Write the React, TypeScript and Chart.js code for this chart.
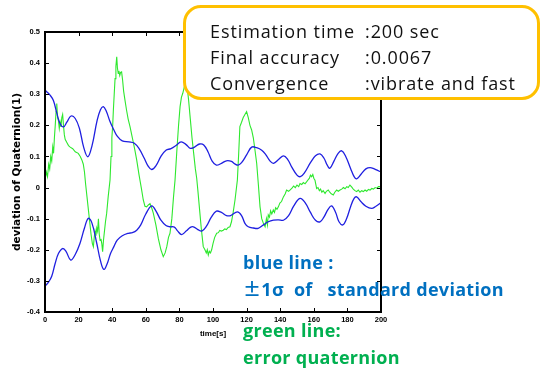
import React, { useEffect, useRef } from "react";
import { Chart, registerables } from "chart.js";

Chart.register(...registerables);

// ---- data (time [s], value) ----
const upperT = [0, 1, 3, 5, 7, 9, 11, 13, 15.5, 18, 20.5, 23, 25.5, 28, 31, 33, 34.7, 36.5, 38.5, 41, 43, 46, 50, 53, 56, 59, 61.5, 63.5, 66, 69, 72, 75, 78, 81, 84, 86.5, 89, 92, 94.5, 97, 99.5, 102, 105, 108, 111, 113, 115, 117, 120, 123, 126, 129, 131.5, 134, 136, 139, 142, 144.5, 147, 150, 152, 154.5, 158, 161, 163.7, 166, 168, 169.6, 172, 174.5, 176.6, 179, 182, 184, 185.5, 188, 191, 193.5, 196, 198, 200];
const upperV = [0.313, 0.308, 0.297, 0.28, 0.24, 0.205, 0.195, 0.21, 0.23, 0.222, 0.19, 0.13, 0.099, 0.135, 0.215, 0.25, 0.26, 0.245, 0.215, 0.185, 0.165, 0.15, 0.147, 0.143, 0.125, 0.095, 0.068, 0.058, 0.07, 0.1, 0.12, 0.125, 0.135, 0.147, 0.138, 0.126, 0.13, 0.14, 0.137, 0.115, 0.085, 0.072, 0.078, 0.086, 0.084, 0.076, 0.072, 0.08, 0.105, 0.13, 0.128, 0.12, 0.105, 0.085, 0.078, 0.09, 0.102, 0.09, 0.065, 0.04, 0.035, 0.048, 0.08, 0.102, 0.108, 0.095, 0.072, 0.062, 0.085, 0.11, 0.118, 0.1, 0.06, 0.035, 0.028, 0.042, 0.06, 0.064, 0.06, 0.055, 0.05];

const lowerT = [0, 2, 4, 6, 8, 10.5, 12.5, 15.3, 18, 20.8, 23.5, 25.8, 28, 30.8, 33, 35, 37, 39, 41, 43, 46, 49.6, 52, 54.6, 57, 60, 63.5, 66, 69, 72, 74.4, 77, 79, 81.3, 84, 86.5, 88.3, 91, 93.3, 96, 99, 102, 105, 108, 110.5, 114.5, 117, 119, 121, 124, 126.9, 130, 132.9, 136, 139, 141.9, 145, 148, 151.8, 155, 158, 161, 163.7, 166, 168.5, 170.6, 173, 175, 177.2, 179.5, 182, 184, 185.5, 188, 191, 194.4, 197, 200];
const lowerV = [-0.317, -0.305, -0.285, -0.245, -0.212, -0.196, -0.205, -0.233, -0.215, -0.18, -0.13, -0.099, -0.115, -0.179, -0.235, -0.263, -0.245, -0.212, -0.19, -0.169, -0.155, -0.147, -0.145, -0.137, -0.12, -0.085, -0.059, -0.075, -0.105, -0.122, -0.126, -0.127, -0.14, -0.151, -0.14, -0.128, -0.126, -0.135, -0.14, -0.125, -0.095, -0.076, -0.08, -0.09, -0.09, -0.078, -0.09, -0.115, -0.126, -0.13, -0.131, -0.12, -0.11, -0.105, -0.104, -0.105, -0.09, -0.06, -0.035, -0.05, -0.08, -0.105, -0.11, -0.095, -0.07, -0.059, -0.08, -0.11, -0.12, -0.1, -0.06, -0.035, -0.03, -0.045, -0.06, -0.067, -0.06, -0.049];

const errT = [0, 0.8, 1.5, 2.2, 2.8, 3.4, 4, 4.6, 5.1, 5.6, 6.1, 6.6, 7, 7.5, 8, 8.5, 9, 9.5, 10, 10.5, 11, 11.5, 12, 13, 14, 15, 16.5, 18, 19.8, 21, 22, 22.8, 23.5, 24.2, 25, 25.8, 26.6, 27.4, 28.2, 28.8, 29.3, 29.8, 30.3, 30.8, 31.3, 31.8, 32.3, 32.8, 33.3, 33.8, 34.3, 34.8, 35.4, 36, 36.7, 37.6, 38.7, 39.3, 39.8, 40.3, 40.7, 41.2, 41.7, 42.2, 42.7, 43.1, 43.6, 44, 44.5, 45, 45.6, 46.2, 46.8, 47.6, 48.5, 49.5, 50.6, 52, 53.5, 54.6, 56, 57.3, 58.5, 59.5, 60.5, 61.5, 62.5, 63.5, 64.5, 66, 67.5, 69, 70.4, 71.5, 72.5, 73.5, 74.4, 75.5, 76.5, 77.4, 78.5, 79.5, 80.4, 81.2, 82, 82.8, 83.6, 84.5, 85.5, 86.5, 87.5, 88.5, 89.5, 90.3, 91, 92, 93, 94.2, 95.2, 96, 96.6, 97.2, 97.8, 98.5, 99.2, 100, 101, 102.2, 103.2, 104, 105, 106.1, 107, 108, 109, 110.1, 111, 112, 113.1, 114.5, 115.3, 116, 117, 118, 119, 120, 121, 122, 123, 124, 125, 126, 127, 128, 129, 130, 131, 131.8, 132.4, 132.9, 133.6, 134.3, 135, 135.9, 136.6, 137.3, 138.1, 138.9, 139.8, 140.8, 141.9, 143, 143.8, 145, 145.8, 147, 148, 149, 150, 151, 151.8, 152.8, 153.8, 154.8, 155.8, 156.6, 157.4, 158, 158.7, 159.4, 160, 160.7, 161.2, 161.7, 162.5, 163.3, 164, 164.8, 165.6, 166.7, 167.5, 168.6, 169.5, 170.4, 171.6, 172.5, 173.6, 174.6, 175.6, 176.6, 177.6, 178.6, 179.6, 180.5, 181.5, 182.5, 183.5, 184.5, 185.5, 186.5, 187.5, 188.5, 189.5, 190.5, 191.5, 192.5, 193.5, 194.5, 195.5, 196.5, 197.5, 198.5, 199.4, 200];
const errV = [0.024, 0.05, 0.035, 0.075, 0.06, 0.1, 0.085, 0.13, 0.11, 0.16, 0.2, 0.245, 0.27, 0.225, 0.215, 0.19, 0.21, 0.195, 0.225, 0.235, 0.2, 0.17, 0.155, 0.145, 0.135, 0.13, 0.125, 0.115, 0.11, 0.1, 0.088, 0.075, 0.05, 0.01, -0.03, -0.07, -0.11, -0.15, -0.18, -0.19, -0.16, -0.14, -0.155, -0.13, -0.14, -0.1, -0.15, -0.17, -0.165, -0.18, -0.206, -0.17, -0.14, -0.11, -0.083, -0.03, 0.024, 0.1, 0.16, 0.2, 0.249, 0.3, 0.35, 0.39, 0.42, 0.385, 0.367, 0.375, 0.36, 0.37, 0.372, 0.345, 0.31, 0.281, 0.25, 0.22, 0.196, 0.16, 0.12, 0.088, 0.04, 0.0, -0.04, -0.06, -0.062, -0.056, -0.052, -0.065, -0.083, -0.12, -0.165, -0.2, -0.222, -0.21, -0.19, -0.16, -0.147, -0.1, -0.03, 0.024, 0.12, 0.2, 0.26, 0.29, 0.303, 0.32, 0.34, 0.33, 0.28, 0.22, 0.16, 0.11, 0.06, 0.03, -0.01, -0.07, -0.13, -0.19, -0.2, -0.21, -0.2, -0.217, -0.205, -0.21, -0.2, -0.18, -0.16, -0.147, -0.145, -0.138, -0.14, -0.137, -0.133, -0.135, -0.128, -0.126, -0.11, -0.08, -0.04, 0.024, 0.11, 0.196, 0.21, 0.225, 0.235, 0.244, 0.225, 0.2, 0.185, 0.16, 0.12, 0.078, 0.01, -0.062, -0.1, -0.115, -0.126, -0.1, -0.12, -0.088, -0.095, -0.075, -0.085, -0.072, -0.08, -0.065, -0.07, -0.062, -0.05, -0.045, -0.03, -0.02, -0.008, -0.012, -0.008, -0.002, 0.005, 0.0, 0.008, 0.003, 0.013, 0.01, 0.016, 0.012, 0.019, 0.025, 0.03, 0.04, 0.035, 0.042, 0.03, 0.024, 0.01, -0.003, 0.0, -0.01, -0.005, -0.015, -0.01, -0.019, -0.012, -0.008, -0.015, -0.02, -0.024, -0.015, -0.008, -0.012, -0.008, -0.005, 0.0, -0.004, 0.003, 0.0, 0.008, 0.002, -0.005, -0.01, -0.013, -0.008, -0.015, -0.01, -0.013, -0.008, -0.012, -0.006, -0.008, -0.003, -0.005, 0.0, -0.002, 0.003, 0.003, 0.005];

const xTickStep = 20;
const yTickStep = 0.1;
const xTitle = "time[s]";
const yTitle = "deviation of Quaternion(1)";

const infoLabels = ["Estimation time", "Final accuracy", "Convergence"];
const infoValues = [":200 sec", ":0.0067", ":vibrate and fast"];

const toPoints = (t: number[], v: number[]) => t.map((x, i) => ({ x, y: v[i] }));

const framePlugin = {
  id: "frame",
  afterDatasetsDraw(chart: any) {
    const { ctx, chartArea, scales } = chart;
    const { left, right, top, bottom } = chartArea;
    const x = scales.x;
    const y = scales.y;
    ctx.save();
    ctx.strokeStyle = "#000";
    ctx.lineWidth = 2;
    ctx.strokeRect(left, top, right - left, bottom - top);
    ctx.lineWidth = 1;
    const L = 4;
    ctx.beginPath();
    x.ticks.forEach((t: any) => {
      const px = Math.round(x.getPixelForValue(t.value)) + 0.5;
      if (px <= left + 2 || px >= right - 2) return;
      ctx.moveTo(px, bottom);
      ctx.lineTo(px, bottom - L);
      ctx.moveTo(px, top);
      ctx.lineTo(px, top + L);
    });
    y.ticks.forEach((t: any) => {
      const py = Math.round(y.getPixelForValue(t.value)) + 0.5;
      if (py <= top + 2 || py >= bottom - 2) return;
      ctx.moveTo(left, py);
      ctx.lineTo(left + L, py);
      ctx.moveTo(right, py);
      ctx.lineTo(right - L, py);
    });
    ctx.stroke();
    ctx.restore();
  },
};

export default function App() {
  const ref = useRef<HTMLCanvasElement | null>(null);

  useEffect(() => {
    if (!ref.current) return;
    const tickFont = { family: "Liberation Sans", size: 7.5, weight: "bold" as const };
    const chart = new Chart(ref.current, {
      type: "line",
      data: {
        datasets: [
          {
            data: toPoints(upperT, upperV),
            borderColor: "#1f1fe0",
            borderWidth: 1.3,
            tension: 0.4,
            pointRadius: 0,
          },
          {
            data: toPoints(lowerT, lowerV),
            borderColor: "#1f1fe0",
            borderWidth: 1.3,
            tension: 0.4,
            pointRadius: 0,
          },
          {
            data: toPoints(errT, errV),
            borderColor: "#2ee82e",
            borderWidth: 1.1,
            tension: 0,
            pointRadius: 0,
          },
        ],
      },
      options: {
        responsive: false,
        animation: false,
        events: [],
        layout: { padding: { top: 32, right: 160, left: 0, bottom: 0 } },
        plugins: { legend: { display: false }, tooltip: { enabled: false } },
        scales: {
          x: {
            type: "linear",
            min: 0,
            max: 200,
            grid: { display: false, drawTicks: false },
            border: { display: false },
            ticks: {
              stepSize: xTickStep,
              color: "#000",
              font: tickFont,
              padding: 3,
              maxRotation: 0,
              autoSkip: false,
            },
            title: {
              display: true,
              text: xTitle,
              color: "#000",
              font: { family: "Liberation Sans", size: 8, weight: "bold" },
              padding: { top: 0, bottom: 32 },
            },
            afterFit: (s: any) => {
              s.height = 59;
            },
          },
          y: {
            min: -0.4,
            max: 0.5,
            grid: { display: false, drawTicks: false },
            border: { display: false },
            ticks: {
              stepSize: yTickStep,
              color: "#000",
              font: tickFont,
              padding: 5,
              autoSkip: false,
              callback: (v: any) => {
                const r = Math.round(Number(v) * 10) / 10;
                return r === 0 ? "0" : r.toFixed(1);
              },
            },
            title: {
              display: true,
              text: yTitle,
              color: "#000",
              font: { family: "DejaVu Sans", size: 10.5, weight: "bold" },
              padding: { top: 11, bottom: 0 },
            },
            afterFit: (s: any) => {
              s.width = 45;
            },
          },
        },
      },
      plugins: [framePlugin],
    });
    return () => chart.destroy();
  }, []);

  const infoFont: React.CSSProperties = {
    position: "absolute",
    fontFamily: "'Open Sans', sans-serif",
    fontSize: 18,
    letterSpacing: 0.9,
    lineHeight: "20px",
    color: "#111",
    whiteSpace: "pre",
  };
  const noteFont: React.CSSProperties = {
    position: "absolute",
    fontFamily: "'Open Sans', sans-serif",
    fontWeight: 700,
    fontSize: 18,
    letterSpacing: 0.3,
    lineHeight: "20px",
    whiteSpace: "pre",
    left: 243,
  };

  return (
    <div
      style={{
        position: "absolute",
        left: 0,
        top: 0,
        width: 541,
        height: 371,
        background: "#fff",
        overflow: "hidden",
      }}
    >
      <canvas ref={ref} width={541} height={371} style={{ position: "absolute", left: 0, top: 0 }} />
      <div
        style={{
          position: "absolute",
          left: 183,
          top: 5,
          width: 357,
          height: 95,
          boxSizing: "border-box",
          border: "3px solid #FFC000",
          borderRadius: 18,
          background: "#fff",
        }}
      />
      {infoLabels.map((s, i) => (
        <div key={"l" + i} style={{ ...infoFont, left: 210, top: 21 + i * 26 }}>
          {s}
        </div>
      ))}
      {infoValues.map((s, i) => (
        <div key={"v" + i} style={{ ...infoFont, left: 365, top: 21 + i * 26 }}>
          {s}
        </div>
      ))}
      <div style={{ ...noteFont, top: 252, color: "#0070C0" }}>{"blue line :"}</div>
      <div style={{ ...noteFont, top: 278, color: "#0070C0" }}>
        <span style={{ fontFamily: "'Noto Sans CJK JP', sans-serif" }}>{"±"}</span>
        {"1σ  of   standard deviation"}
      </div>
      <div style={{ ...noteFont, top: 320, color: "#00B050" }}>{"green line:"}</div>
      <div style={{ ...noteFont, top: 347, color: "#00B050" }}>{"error quaternion"}</div>
    </div>
  );
}
